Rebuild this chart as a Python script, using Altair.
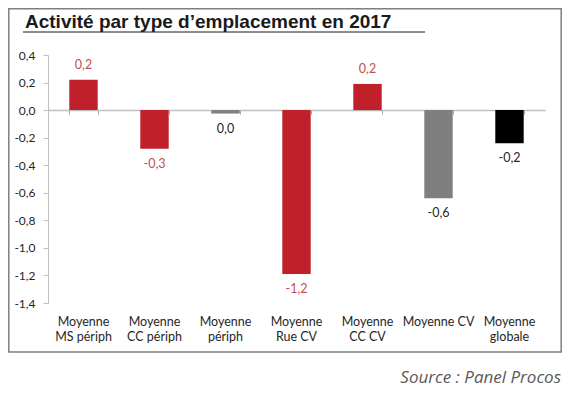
import altair as alt
import pandas as pd

categories = ["Moyenne|MS périph", "Moyenne|CC périph", "Moyenne|périph",
              "Moyenne|Rue CV", "Moyenne|CC CV", "Moyenne CV", "Moyenne|globale"]
values = [0.22, -0.28, -0.025, -1.19, 0.19, -0.64, -0.24]
labels = ["0,2", "-0,3", "0,0", "-1,2", "0,2", "-0,6", "-0,2"]
groups = ["rouge", "rouge", "gris", "rouge", "rouge", "gris", "noir"]
y_ticks = [0.4, 0.2, 0.0, -0.2, -0.4, -0.6, -0.8, -1.0, -1.2, -1.4]

df = pd.DataFrame({"cat": categories, "val": values, "lab": labels, "grp": groups})

FONT = "Lato"
W, H = 497, 248

xscale = alt.Scale(paddingInner=0.6, paddingOuter=0.3)
yscale = alt.Scale(domain=[-1.4, 0.4], nice=False, zero=False)

yaxis = alt.Axis(values=y_ticks, grid=False, domainColor="#BFBFBF",
                 tickColor="#BFBFBF", tickSize=5, labelPadding=8,
                 labelOverlap=False, labelFlush=False, labelBound=False,
                 labelFont=FONT, labelFontSize=12, labelColor="#262626",
                 labelExpr="replace(replace(format(datum.value, '.1f'), '.', ','), '\u2212', '-')")
yenc = alt.Y("val:Q", scale=yscale, title=None, axis=yaxis)

bar_color = alt.Color("grp:N", legend=None,
                      scale=alt.Scale(domain=["rouge", "gris", "noir"],
                                      range=["#C0202A", "#7F7F7F", "#000000"]))
lab_color = alt.Color("grp:N", legend=None,
                      scale=alt.Scale(domain=["rouge", "gris", "noir"],
                                      range=["#C0504D", "#262626", "#262626"]))

bars = alt.Chart(df).mark_bar().encode(
    x=alt.X("cat:N", sort=None, scale=xscale, title=None,
            axis=alt.Axis(orient="bottom", domain=False, ticks=False, labelAngle=0,
                          labelExpr="split(datum.label, '|')", labelFont=FONT,
                          labelFontSize=12.5, labelColor="#262626", labelPadding=12,
                          labelLineHeight=15, labelBaseline="top")),
    y=yenc,
    color=bar_color,
)

text_pos = alt.Chart(df).transform_filter("datum.val >= 0").mark_text(
    font=FONT, fontSize=12.5, baseline="middle", dy=-15).encode(
    x=alt.X("cat:N", sort=None, scale=xscale, title=None,
            axis=alt.Axis(orient="bottom", offset=-192.9, labels=False, domainColor="#BFBFBF",
                          domainWidth=1.5, tickColor="#A6A6A6", tickSize=4, tickWidth=1,
                          tickBand="extent")),
    y=yenc,
    text="lab:N",
    color=lab_color,
)

text_neg = alt.Chart(df).transform_filter("datum.val < 0").mark_text(
    font=FONT, fontSize=12.5, baseline="middle", dy=15).encode(
    x=alt.X("cat:N", sort=None, scale=xscale, axis=None),
    y=yenc,
    text="lab:N",
    color=lab_color,
)

one = alt.Data(values=[{"a": 1}])

border = alt.Chart(one).mark_rect(fill=None, stroke="#7F7F7F", strokeWidth=1.5).encode(
    x=alt.value(-39.2), x2=alt.value(513.2), y=alt.value(-46.2), y2=alt.value(297)
)

title = alt.Chart(one).mark_text(
    text="Activité par type d’emplacement en 2017", font="Liberation Sans",
    fontWeight="bold", fontSize=19, align="left", baseline="alphabetic", color="#1a1a1a"
).encode(x=alt.value(-23), y=alt.value(-27))

underline = alt.Chart(one).mark_rule(color="#1a1a1a", strokeWidth=1).encode(
    x=alt.value(-25), x2=alt.value(377), y=alt.value(-23)
)

source = alt.Chart(one).mark_text(
    text="Source : Panel Procos", font="Open Sans", fontStyle="italic", fontSize=17,
    align="right", baseline="middle", color="#595959"
).encode(x=alt.value(513), y=alt.value(323))

chart = alt.layer(border, bars, text_pos, text_neg, title, underline, source).resolve_axis(
    x="independent"
).resolve_scale(color="independent").properties(
    width=W, height=H,
    autosize=alt.AutoSizeParams(type="none"),
    padding={"left": 40, "top": 47, "right": 17, "bottom": 85},
).configure_view(stroke=None)

chart.save("out.html", embed_options={"renderer": "svg", "actions": False})
